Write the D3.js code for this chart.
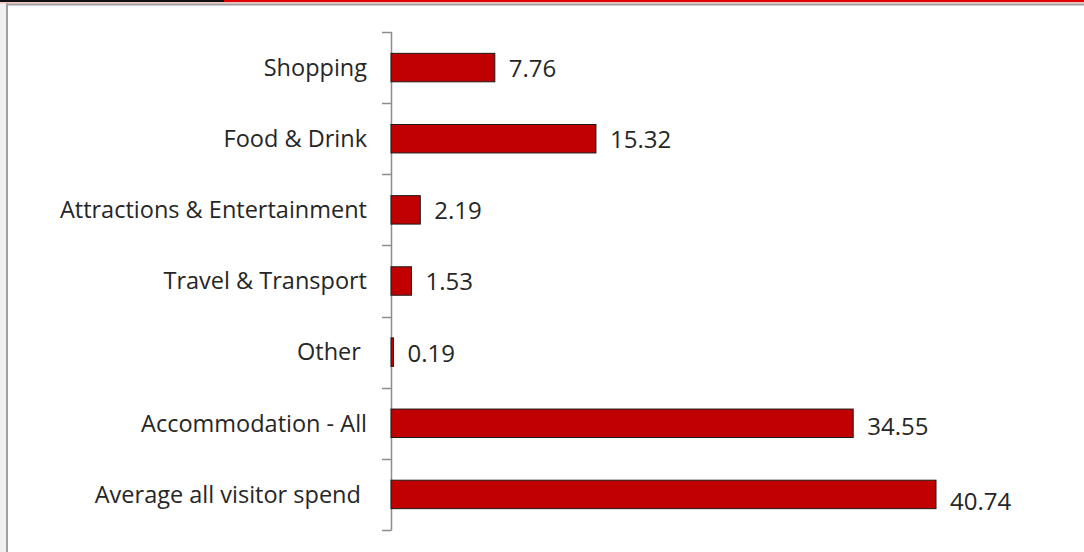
<!DOCTYPE html>
<html>
<head>
<meta charset="utf-8">
<script src="https://cdn.jsdelivr.net/npm/d3@7"></script>
<style>
  html, body { margin: 0; padding: 0; background: #ffffff; }
  svg { display: block; }
  text { font-family: "Open Sans", Lato, "Liberation Sans", sans-serif; fill: #262626; white-space: pre; }
</style>
</head>
<body>
<svg id="chart" width="1084" height="552"></svg>
<script>
// Average spend per visitor by category
const categories = [
  "Shopping",
  "Food & Drink",
  "Attractions & Entertainment",
  "Travel & Transport",
  "Other ",
  "Accommodation - All",
  "Average all visitor spend "
];
const spend = [7.76, 15.32, 2.19, 1.53, 0.19, 34.55, 40.74];
const valueLabels = ["7.76", "15.32", "2.19", "1.53", "0.19", "34.55", "40.74"];

const W = 1084, H = 552;
const svg = d3.select("#chart");

// window frame around the plot
svg.append("rect").attr("x", 0).attr("y", 0).attr("width", 7).attr("height", H).attr("fill", "#f0f0f0");
svg.append("rect").attr("x", 0).attr("y", 0).attr("width", 224).attr("height", 2).attr("fill", "#111111");
svg.append("rect").attr("x", 224).attr("y", 0).attr("width", W - 224).attr("height", 2).attr("fill", "#e00000");
svg.append("rect").attr("x", 0).attr("y", 2).attr("width", W).attr("height", 1.5).attr("fill", "#f6c4c4");
svg.append("rect").attr("x", 6).attr("y", 3.5).attr("width", W - 6).attr("height", 2).attr("fill", "#a0a0a0");
svg.append("rect").attr("x", 6).attr("y", 3.5).attr("width", 2).attr("height", H).attr("fill", "#a0a0a0");

const x = d3.scaleLinear().domain([0, 45]).range([391, 993]);
const y = d3.scaleBand().domain(categories).range([32, 530]).paddingInner(0.6).paddingOuter(0.3);

// category axis with ticks on band boundaries
const axisG = svg.append("g");
axisG.append("line")
  .attr("x1", 391.5).attr("x2", 391.5)
  .attr("y1", 32).attr("y2", 530.5)
  .attr("stroke", "#8c8c8c").attr("stroke-width", 1.5);
const boundaries = d3.range(categories.length + 1).map(i => 32 + i * (530 - 32) / categories.length);
axisG.selectAll("line.tick").data(boundaries).join("line")
  .attr("class", "tick")
  .attr("x1", 382).attr("x2", 391.5)
  .attr("y1", d => Math.round(d) + 0.5).attr("y2", d => Math.round(d) + 0.5)
  .attr("stroke", "#8c8c8c").attr("stroke-width", 1.5);

// bars
svg.append("g").selectAll("rect").data(categories).join("rect")
  .attr("x", x(0))
  .attr("y", d => y(d))
  .attr("width", (d, i) => x(spend[i]) - x(0))
  .attr("height", y.bandwidth())
  .attr("fill", "#c00000")
  .attr("stroke", "#1a1a1a")
  .attr("stroke-width", 1);

// category labels
svg.append("g").selectAll("text").data(categories).join("text")
  .attr("x", 367)
  .attr("y", d => y(d) + y.bandwidth() / 2)
  .attr("dy", "0.35em")
  .attr("text-anchor", "end")
  .attr("font-size", 23.5)
  .text(d => d);

// value labels
const lift = [1, 1, 1, 1, 1, 3, 7];
svg.append("g").selectAll("text").data(categories).join("text")
  .attr("x", (d, i) => x(spend[i]) + 14)
  .attr("y", (d, i) => y(d) + y.bandwidth() / 2 + lift[i])
  .attr("dy", "0.35em")
  .attr("font-size", 24)
  .text((d, i) => valueLabels[i]);
</script>
</body>
</html>
